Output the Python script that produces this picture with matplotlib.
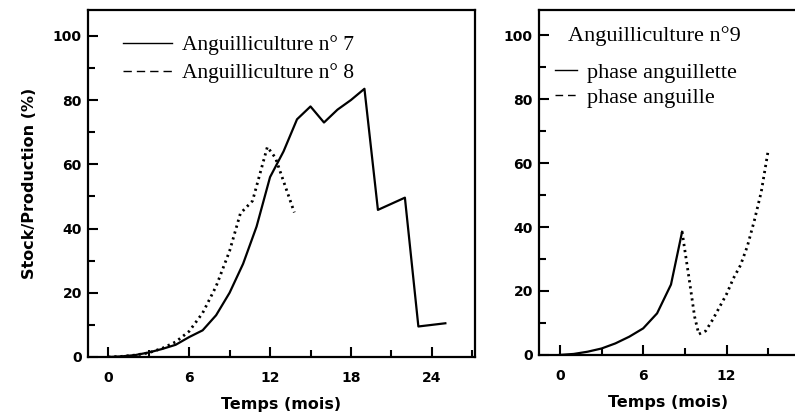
import numpy as np
import matplotlib
matplotlib.use("Agg")
import matplotlib.pyplot as plt
from matplotlib.lines import Line2D
from matplotlib.ticker import MultipleLocator

# Anguilliculture n° 7 (solid)
t7 = [0, 1, 2, 3, 4, 5, 6, 7, 8, 9, 10, 11, 12, 13, 14, 15, 16, 17, 18, 19, 20, 22, 23, 25]
s7 = [0, 0.2, 0.6, 1.4, 2.5, 3.8, 6.2, 8.3, 13, 20, 29, 40.6, 56, 64, 74, 78, 73, 77, 80, 83.5, 45.8, 49.6, 9.5, 10.5]
# Anguilliculture n° 8 (dotted)
t8 = [0, 1, 2, 3, 4, 5, 6, 7, 8, 9, 9.8, 10.7, 11.8, 12.4, 13.8]
s8 = [0, 0.2, 0.6, 1.3, 2.7, 4.7, 8, 13.7, 22, 33, 44.7, 48.6, 65.4, 62, 45]
# Anguilliculture n° 9, phase anguillette (solid) and phase anguille (dotted)
t9a = [0, 1, 2, 3, 4, 5, 6, 7, 8, 8.8]
s9a = [0, 0.3, 1, 2, 3.6, 5.7, 8.3, 13, 22, 38.5]
t9b = [8.8, 9.3, 9.7, 10.0, 10.5, 11, 11.5, 12, 12.5, 13, 13.5, 14, 14.5, 15]
s9b = [38.5, 24, 12, 6.5, 7.5, 11, 15, 19, 24, 28, 34, 42, 51, 64]

xticks_left = [0, 6, 12, 18, 24]
xticks_right = [0, 6, 12]
yticks = [0, 20, 40, 60, 80, 100]

sans = "DejaVu Sans"
serif = "Liberation Serif"

fig = plt.figure(figsize=(7.95, 4.2), dpi=100)
ax1 = fig.add_axes([0.1107, 0.15, 0.4868, 0.826])
ax2 = fig.add_axes([0.678, 0.155, 0.325, 0.822])

dot = (0, (0.8, 1.4))

ax1.plot(t7, s7, color="black", lw=1.6)
ax1.plot(t8, s8, color="black", lw=2.0, linestyle=dot)
ax2.plot(t9a, s9a, color="black", lw=1.6)
ax2.plot(t9b, s9b, color="black", lw=2.0, linestyle=dot)

ax1.set_xlim(-1.5, 27.2)
ax2.set_xlim(-1.5, 17.1)
ax1.set_xticks(xticks_left)
ax2.set_xticks(xticks_right)
for ax in (ax1, ax2):
    ax.set_ylim(0, 108)
    ax.set_yticks(yticks)
    ax.yaxis.set_minor_locator(MultipleLocator(10))
    ax.xaxis.set_minor_locator(MultipleLocator(3))
    ax.tick_params(which="both", direction="in", width=1.5, length=7,
                   labelsize=10)
    ax.tick_params(which="minor", length=5)
    ax.tick_params(axis="x", pad=10)
    ax.tick_params(axis="y", pad=4.5)
    for lab in ax.get_xticklabels() + ax.get_yticklabels():
        lab.set_fontfamily(sans)
        lab.set_fontweight("bold")
    for sp in ax.spines.values():
        sp.set_linewidth(1.6)
    ax.set_xlabel("Temps (mois)", fontfamily=sans, fontweight="bold",
                  fontsize=11.5, labelpad=9)

ax1.set_ylabel("Stock/Production (%)", fontfamily=sans, fontweight="bold",
               fontsize=11.5, labelpad=11)

h1 = [Line2D([], [], color="black", lw=1.0),
      Line2D([], [], color="black", lw=1.0, linestyle=(0, (6, 3.6)))]
ax1.legend(h1, ["Anguilliculture n° 7", "Anguilliculture n° 8"],
           loc="center left", bbox_to_anchor=(0.09, 0.8585), frameon=False,
           prop={"family": serif, "size": 15.5}, handlelength=2.28,
           handletextpad=0.46, borderpad=0, borderaxespad=0, labelspacing=0.37)

ax2.text(0.113, 0.925, "Anguilliculture n°9", transform=ax2.transAxes,
         fontfamily=serif, fontsize=16, ha="left", va="center")
h2 = [Line2D([], [], color="black", lw=1.0),
      Line2D([], [], color="black", lw=1.0, linestyle=(0, (5.5, 3.5)))]
ax2.legend(h2, ["phase anguillette", "phase anguille"],
           loc="center left", bbox_to_anchor=(0.0625, 0.782), frameon=False,
           prop={"family": serif, "size": 16}, handlelength=1.0,
           handletextpad=0.45, borderpad=0, borderaxespad=0, labelspacing=0.2)

fig.savefig("out.png", dpi=100)
